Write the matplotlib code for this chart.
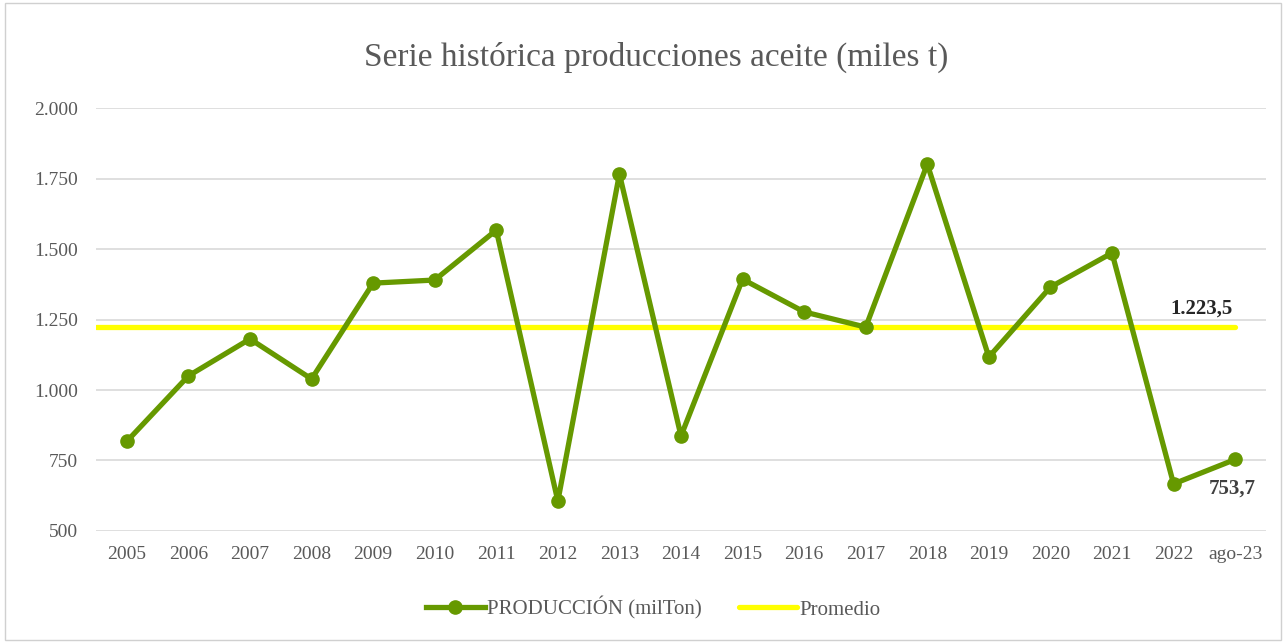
import matplotlib
matplotlib.use("Agg")
import matplotlib.pyplot as plt
from matplotlib.patches import Rectangle
from matplotlib.ticker import FuncFormatter

categories = ["2005", "2006", "2007", "2008", "2009", "2010", "2011", "2012", "2013",
              "2014", "2015", "2016", "2017", "2018", "2019", "2020", "2021", "2022", "ago-23"]
produccion = [818, 1050, 1181, 1039, 1379, 1390, 1567, 606, 1766,
              837, 1393, 1277, 1223, 1801, 1117, 1365, 1486, 667, 753.7]
promedio = 1223.5
yticks = [500, 750, 1000, 1250, 1500, 1750, 2000]

plt.rcParams['font.family'] = ['Liberation Serif', 'DejaVu Serif']

fig = plt.figure(figsize=(12.86, 6.43), dpi=100)
fig.patches.append(Rectangle((0.004, 0.004), 0.992, 0.992, transform=fig.transFigure,
                             fill=False, edgecolor='#d0d0d0', linewidth=1))
ax = fig.add_axes([0.0747, 0.1742, 0.9097, 0.6578])

x = list(range(len(categories)))
green = '#669900'
ax.plot([-0.5, x[-1]], [promedio, promedio], color='#FFFF00', linewidth=3.8,
        solid_capstyle='round', label='Promedio', zorder=2)
ax.plot(x, produccion, color=green, linewidth=3.8, marker='o', markersize=9.5,
        label='PRODUCCIÓN (milTon)', zorder=3)

ax.set_xlim(-0.5, len(categories) - 0.5)
ax.set_ylim(500, 2000)
ax.set_yticks(yticks)
ax.yaxis.set_major_formatter(FuncFormatter(lambda v, p: f"{int(v):,}".replace(",", ".")))
ax.set_xticks(x)
ax.set_xticklabels(categories)
ax.grid(axis='y', color='#d9d9d9', linewidth=1.2)
ax.set_axisbelow(True)
for s in ax.spines.values():
    s.set_visible(False)
ax.tick_params(axis='both', length=0, labelsize=14, labelcolor='#595959')
ax.tick_params(axis='y', pad=13)
ax.tick_params(axis='x', pad=11)

ax.annotate(f"{promedio:,.1f}".replace(",", "X").replace(".", ",").replace("X", "."),
            xy=(17.45, promedio), xytext=(0, 6), textcoords='offset points',
            ha='center', va='bottom', fontsize=15, fontweight='bold', color='#262626')
ax.annotate(f"{produccion[-1]:.1f}".replace(".", ","), xy=(x[-1], produccion[-1]),
            xytext=(-2, -14), textcoords='offset points', ha='center', va='top',
            fontsize=15, fontweight='bold', color='#404040')

fig.suptitle("Serie histórica producciones aceite (miles t)", x=0.510, y=0.935, fontsize=24,
             color='#595959')

handles, labels = ax.get_legend_handles_labels()
leg = fig.legend(handles[::-1], labels[::-1], loc='center', bbox_to_anchor=(0.508, 0.054),
                 ncol=2, frameon=False, fontsize=15, handlelength=2.8, columnspacing=1.8,
                 handletextpad=0.1)
for t in leg.get_texts():
    t.set_color('#595959')

fig.savefig("out.png", dpi=100)
